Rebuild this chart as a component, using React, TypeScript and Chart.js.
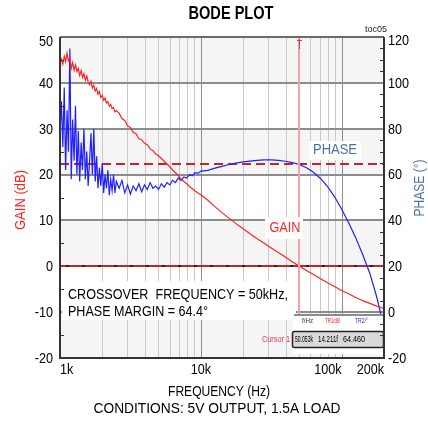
import { useEffect, useRef } from 'react';
import { Chart, registerables } from 'chart.js';

Chart.register(...registerables);

const FONT = '"Liberation Sans", Arial, sans-serif';

// Frequencies (Hz)
const freqHz = [
  1000, 1023, 1047, 1072, 1096, 1122, 1148, 1175, 1202, 1230,
  1259, 1288, 1318, 1349, 1380, 1413, 1445, 1479, 1514, 1549,
  1585, 1622, 1660, 1698, 1738, 1778, 1820, 1862, 1905, 1950,
  1995, 2042, 2089, 2138, 2188, 2239, 2291, 2344, 2399, 2455,
  2512,
  2630, 2754, 2884, 3020, 3162, 3311, 3467, 3631, 3802, 3981,
  4169, 4365, 4571, 4786, 5012, 5248, 5495, 5754, 6026, 6310,
  6607, 6918, 7244, 7586, 7943, 8318, 8710, 9120, 9550, 10000,
  11220, 12589, 14125, 15849, 17783, 19953, 22387, 25119, 28184, 31623,
  35481, 39811, 44668, 50119, 56234, 63096, 70795, 79433, 89125, 100000,
  112202, 125893, 141254, 158489, 177828, 199526,
];

// Gain (dB)
const gainDb = [
  44.0, 45.2, 44.1, 45.8, 44.6, 46.5, 44.8, 45.3, 43.2, 44.4,
  42.8, 43.9, 42.5, 43.1, 41.6, 42.7, 41.2, 42.0, 40.6, 41.5,
  40.2, 39.6, 40.4, 38.9, 39.5, 38.2, 38.8, 37.5, 38.1, 36.8,
  37.3, 36.2, 36.7, 35.6, 35.9, 34.9, 35.3, 34.4, 34.6, 33.7,
  33.9,
  33.4, 32.2, 31.8, 30.6, 30.3, 29.2, 28.9, 27.8, 27.6, 26.8,
  26.5, 25.6, 25.2, 24.5, 24.1, 23.5, 22.9, 22.3, 21.7, 21.0,
  20.4, 19.8, 19.1, 18.5, 18.0, 17.4, 16.9, 16.4, 16.0, 15.6,
  14.4, 13.0, 11.7, 10.5, 9.3, 8.2, 7.1, 6.0, 5.0, 4.0,
  3.0, 2.0, 1.0, 0.0, -0.9, -1.8, -2.7, -3.6, -4.4, -5.3,
  -6.0, -6.8, -7.5, -8.1, -8.7, -9.2,
];

// Phase (degrees)
const phaseDeg = [
  78, 92, 72, 98, 62, 88, 70, 115, 58, 84,
  66, 90, 60, 79, 57, 74, 62, 80, 58, 70,
  55, 66, 78, 60, 80, 57, 68, 54, 63, 55,
  65, 52, 60, 54, 62, 51, 58, 53, 60, 52,
  57,
  54, 57.5, 52, 55.5, 51.5, 55, 53, 56, 52.5, 55.5,
  53.5, 56.5, 54, 55, 53.5, 56, 54.5, 56.5, 55.5, 57.5,
  56.5, 58.5, 57.5, 59, 58.5, 60, 59.5, 60.8, 60.5, 61.5,
  61.8, 62.8, 63.6, 64.4, 65.0, 65.5, 65.9, 66.2, 66.4, 66.4,
  66.2, 65.8, 65.2, 64.4, 63.0, 61.0, 58.3, 54.8, 50.3, 45.0,
  39.0, 32.5, 25.0, 17.0, 6.5, -6.5,
];

const gainTicks = [50, 40, 30, 20, 10, 0, -10, -20];
const phaseTicks = [120, 100, 80, 60, 40, 20, 0, -20];
const freqTickValues = [1000, 10000, 100000, 200000];
const freqTickLabels = ['1k', '10k', '100k', '200k'];
const freqTickAlign: CanvasTextAlign[] = ['left', 'center', 'right', 'right'];

const crossoverHz = 50053;
const phaseMarginDeg = 64.4;
const cursorHeaders = ['f/Hz', 'TR1/dB', 'TR2/°'];
const cursorValues = ['50.053k', '14.211f', '64.460'];

const RED = '#ff2222';
const DARK_RED = '#c0272d';
const BLUE = '#1f1fff';
const STEEL = '#4a6fa5';

// draw text; if width given, squeeze horizontally to that width, else apply sx
function text(
  ctx: CanvasRenderingContext2D, s: string, x: number, y: number, size: number, color: string,
  align: CanvasTextAlign = 'left', bold = false, width = 0, sx = 0.88,
) {
  ctx.save();
  ctx.font = `${bold ? 'bold ' : ''}${size}px ${FONT}`;
  ctx.fillStyle = color;
  ctx.textBaseline = 'middle';
  ctx.textAlign = 'left';
  const w = ctx.measureText(s).width;
  const k = width > 0 ? width / w : sx;
  const ww = w * k;
  let left = x;
  if (align === 'center') left = x - ww / 2;
  else if (align === 'right' || align === 'end') left = x - ww;
  ctx.translate(left, y);
  ctx.scale(k, 1);
  ctx.fillText(s, 0, 0);
  ctx.restore();
}

const bodePlugin = {
  id: 'bode',
  beforeDraw(chart: any) {
    const { ctx, chartArea: a } = chart;
    const y = chart.scales.y;
    ctx.save();
    ctx.fillStyle = '#fff';
    ctx.fillRect(0, 0, chart.width, chart.height);
    for (let i = 0; i < gainTicks.length - 1; i++) {
      if (i % 2 === 0) {
        const t = y.getPixelForValue(gainTicks[i]);
        const b = y.getPixelForValue(gainTicks[i + 1]);
        ctx.fillStyle = '#f5f5f5';
        ctx.fillRect(a.left, t, a.right - a.left, b - t);
      }
    }
    ctx.restore();
  },
  beforeDatasetsDraw(chart: any) {
    const { ctx, chartArea: a } = chart;
    const x = chart.scales.x;
    const y = chart.scales.y;
    const y2 = chart.scales.y2;
    ctx.save();
    for (let dec = 1000; dec <= 100000; dec *= 10) {
      for (let m = 1; m <= 9; m++) {
        const f = m * dec;
        if (f <= 1000 || f >= 200000) continue;
        const px = Math.round(x.getPixelForValue(f)) + 0.5;
        ctx.strokeStyle = m === 1 ? '#8f8f8f' : '#c8c8c8';
        ctx.lineWidth = 1;
        ctx.beginPath();
        ctx.moveTo(px, a.top);
        ctx.lineTo(px, a.bottom);
        ctx.stroke();
      }
    }
    for (const v of gainTicks) {
      if (v === 50 || v === -20) continue;
      const py = Math.round(y.getPixelForValue(v));
      ctx.strokeStyle = '#8c8c8c';
      ctx.lineWidth = 2;
      ctx.beginPath();
      ctx.moveTo(a.left, py);
      ctx.lineTo(a.right, py);
      ctx.stroke();
    }
    const pm = Math.round(y2.getPixelForValue(phaseMarginDeg));
    ctx.strokeStyle = DARK_RED;
    ctx.lineWidth = 2;
    ctx.setLineDash([9, 5]);
    ctx.beginPath();
    ctx.moveTo(a.left, pm);
    ctx.lineTo(a.right, pm);
    ctx.stroke();
    const z = Math.round(y.getPixelForValue(0));
    ctx.setLineDash([]);
    ctx.strokeStyle = DARK_RED;
    ctx.beginPath();
    ctx.moveTo(a.left, z);
    ctx.lineTo(a.right, z);
    ctx.stroke();
    ctx.setLineDash([3, 13]);
    ctx.strokeStyle = '#222';
    ctx.beginPath();
    ctx.moveTo(a.left + 6, z);
    ctx.lineTo(a.right, z);
    ctx.stroke();
    ctx.restore();
  },
  afterDatasetsDraw(chart: any) {
    const { ctx, chartArea: a } = chart;
    const x = chart.scales.x;
    const y = chart.scales.y;
    const y2 = chart.scales.y2;
    ctx.save();
    const cx = Math.round(x.getPixelForValue(crossoverHz));
    const boxTop = 331;
    ctx.strokeStyle = '#f3a3a8';
    ctx.lineWidth = 2;
    ctx.beginPath();
    ctx.moveTo(cx, a.top);
    ctx.lineTo(cx, boxTop);
    ctx.stroke();
    ctx.strokeStyle = '#d04050';
    ctx.lineWidth = 1;
    ctx.beginPath();
    ctx.moveTo(cx + 0.5, a.top + 2);
    ctx.lineTo(cx + 0.5, a.top + 12);
    ctx.moveTo(cx - 2, a.top + 3.5);
    ctx.lineTo(cx + 3, a.top + 3.5);
    ctx.stroke();

    // crossover annotation
    ctx.fillStyle = '#fff';
    ctx.fillRect(a.left + 2, 281, 234, 39);
    text(ctx, 'CROSSOVER  FREQUENCY = 50kHz,', 68, 295, 14, '#000', 'left', false, 220);
    text(ctx, 'PHASE MARGIN = 64.4°', 68, 312, 14, '#000', 'left', false, 140);

    // GAIN / PHASE labels
    ctx.fillStyle = '#fff';
    ctx.fillRect(265, 217, 38, 22);
    text(ctx, 'GAIN', 285, 228, 15, RED, 'center', false, 31);
    ctx.fillStyle = '#fff';
    ctx.fillRect(309, 141, 52, 19);
    text(ctx, 'PHASE', 335, 150, 15, STEEL, 'center', false, 44);

    // cursor readout
    ctx.fillStyle = '#fff';
    ctx.fillRect(293, 316, a.right - 294, 38);
    ctx.strokeStyle = '#8c8c8c';
    ctx.lineWidth = 2;
    ctx.beginPath();
    ctx.moveTo(294, 315);
    ctx.lineTo(a.right, 315);
    ctx.stroke();
    text(ctx, cursorHeaders[0], 302, 321, 8, '#333', 'left', false, 11);
    text(ctx, cursorHeaders[1], 325, 321, 8, RED, 'left', false, 15);
    text(ctx, cursorHeaders[2], 355, 321, 8, '#2222ff', 'left', false, 13);
    ctx.fillStyle = '#d9d9d9';
    ctx.strokeStyle = '#222';
    ctx.lineWidth = 1.5;
    ctx.beginPath();
    ctx.roundRect(292.5, 331.5, a.right - 293, 16, 2);
    ctx.fill();
    ctx.stroke();
    text(ctx, cursorValues[0], 295, 340, 9, '#000', 'left', false, 18);
    text(ctx, cursorValues[1], 318, 340, 9, '#000', 'left', false, 20);
    text(ctx, cursorValues[2], 343, 340, 9, '#000', 'left', false, 22);
    text(ctx, 'Cursor 1', 290, 340, 9, '#e04050', 'right', false, 28);

    // frame
    ctx.strokeStyle = '#6a6a6a';
    ctx.lineWidth = 2;
    ctx.beginPath();
    ctx.moveTo(a.left, a.top);
    ctx.lineTo(a.right, a.top);
    ctx.stroke();
    ctx.strokeStyle = '#333';
    ctx.beginPath();
    ctx.moveTo(a.left, a.top);
    ctx.lineTo(a.left, a.bottom);
    ctx.lineTo(a.right, a.bottom);
    ctx.lineTo(a.right, a.top);
    ctx.stroke();

    ctx.lineWidth = 1;
    ctx.strokeStyle = '#333';
    for (let v = -15; v < 50; v += 5) {
      if (v % 10 === 0) continue;
      const py = Math.round(y.getPixelForValue(v)) + 0.5;
      ctx.beginPath();
      ctx.moveTo(a.left, py);
      ctx.lineTo(a.left + 4, py);
      ctx.stroke();
    }
    for (let v = -15; v < 120; v += 5) {
      if (v % 20 === 0) continue;
      const py = Math.round(y2.getPixelForValue(v)) + 0.5;
      ctx.beginPath();
      ctx.moveTo(a.right - 4, py);
      ctx.lineTo(a.right, py);
      ctx.stroke();
    }
    ctx.restore();
  },
  afterDraw(chart: any) {
    const { ctx, chartArea: a } = chart;
    const x = chart.scales.x;
    const y = chart.scales.y;
    const y2 = chart.scales.y2;
    ctx.save();
    // tick labels
    gainTicks.forEach((v) => {
      const py = Math.max(y.getPixelForValue(v) + 1, a.top + 5);
      text(ctx, String(v), a.left - 7, py, 14, '#000', 'right', false, 0, 0.9);
    });
    phaseTicks.forEach((v) => {
      const py = Math.max(y2.getPixelForValue(v) + 1, a.top + 4);
      text(ctx, String(v), a.right + 4, py, 14, '#000', 'left', false, 0, 0.9);
    });
    freqTickValues.forEach((v, i) => {
      text(ctx, freqTickLabels[i], x.getPixelForValue(v), 370, 14, '#000', freqTickAlign[i], false, 0, 0.9);
    });
    text(ctx, 'BODE PLOT', 231, 14, 18, '#000', 'center', true, 85);
    text(ctx, 'toc05', a.right + 3, 30, 9, '#222', 'right', false, 22);
    text(ctx, 'FREQUENCY (Hz)', 219, 392, 14, '#000', 'center', false, 102);
    text(ctx, 'CONDITIONS: 5V OUTPUT, 1.5A LOAD', 217, 409, 14, '#000', 'center', false, 247);
    ctx.save();
    ctx.translate(21, 200);
    ctx.rotate(-Math.PI / 2);
    text(ctx, 'GAIN (dB)', 0, 0, 15, RED, 'center', false, 60);
    ctx.restore();
    ctx.save();
    ctx.translate(420, 188);
    ctx.rotate(-Math.PI / 2);
    text(ctx, 'PHASE (°)', 0, 0, 15, STEEL, 'center', false, 57);
    ctx.restore();
    ctx.restore();
  },
};

export default function App() {
  const ref = useRef<HTMLCanvasElement>(null);
  useEffect(() => {
    if (!ref.current) return;
    const chart = new Chart(ref.current, {
      type: 'line',
      data: {
        datasets: [
          {
            label: 'Gain',
            data: freqHz.map((f, i) => ({ x: f, y: gainDb[i] })),
            borderColor: RED,
            borderWidth: 1.2,
            pointRadius: 0,
            tension: 0,
            yAxisID: 'y',
          },
          {
            label: 'Phase',
            data: freqHz.map((f, i) => ({ x: f, y: phaseDeg[i] })),
            borderColor: BLUE,
            borderWidth: 1.2,
            pointRadius: 0,
            tension: 0,
            yAxisID: 'y2',
          },
        ],
      },
      options: {
        responsive: false,
        devicePixelRatio: 1,
        animation: false,
        events: [],
        layout: { padding: { top: 37, left: 0, right: 0, bottom: 0 } },
        plugins: { legend: { display: false }, tooltip: { enabled: false }, title: { display: false } },
        scales: {
          x: {
            type: 'logarithmic',
            position: 'bottom',
            min: 1000,
            max: 200000,
            grid: { display: false, drawTicks: false },
            border: { display: false },
            ticks: { display: false },
            afterFit: (s: any) => { s.height = 67; },
          },
          y: {
            type: 'linear',
            position: 'left',
            min: -20,
            max: 50,
            ticks: { display: false, stepSize: 10 },
            grid: { display: false, drawTicks: false },
            border: { display: false },
            afterFit: (s: any) => { s.width = 60; },
          },
          y2: {
            type: 'linear',
            position: 'right',
            min: -20,
            max: 120,
            ticks: { display: false, stepSize: 20 },
            grid: { display: false, drawTicks: false },
            border: { display: false },
            afterFit: (s: any) => { s.width = 44; },
          },
        },
      },
      plugins: [bodePlugin],
    } as any);
    return () => chart.destroy();
  }, []);
  return (
    <div style={{ position: 'absolute', left: 0, top: 0, width: 428, height: 425, background: '#fff' }}>
      <canvas ref={ref} width={428} height={425} style={{ display: 'block', width: 428, height: 425 }} />
    </div>
  );
}
